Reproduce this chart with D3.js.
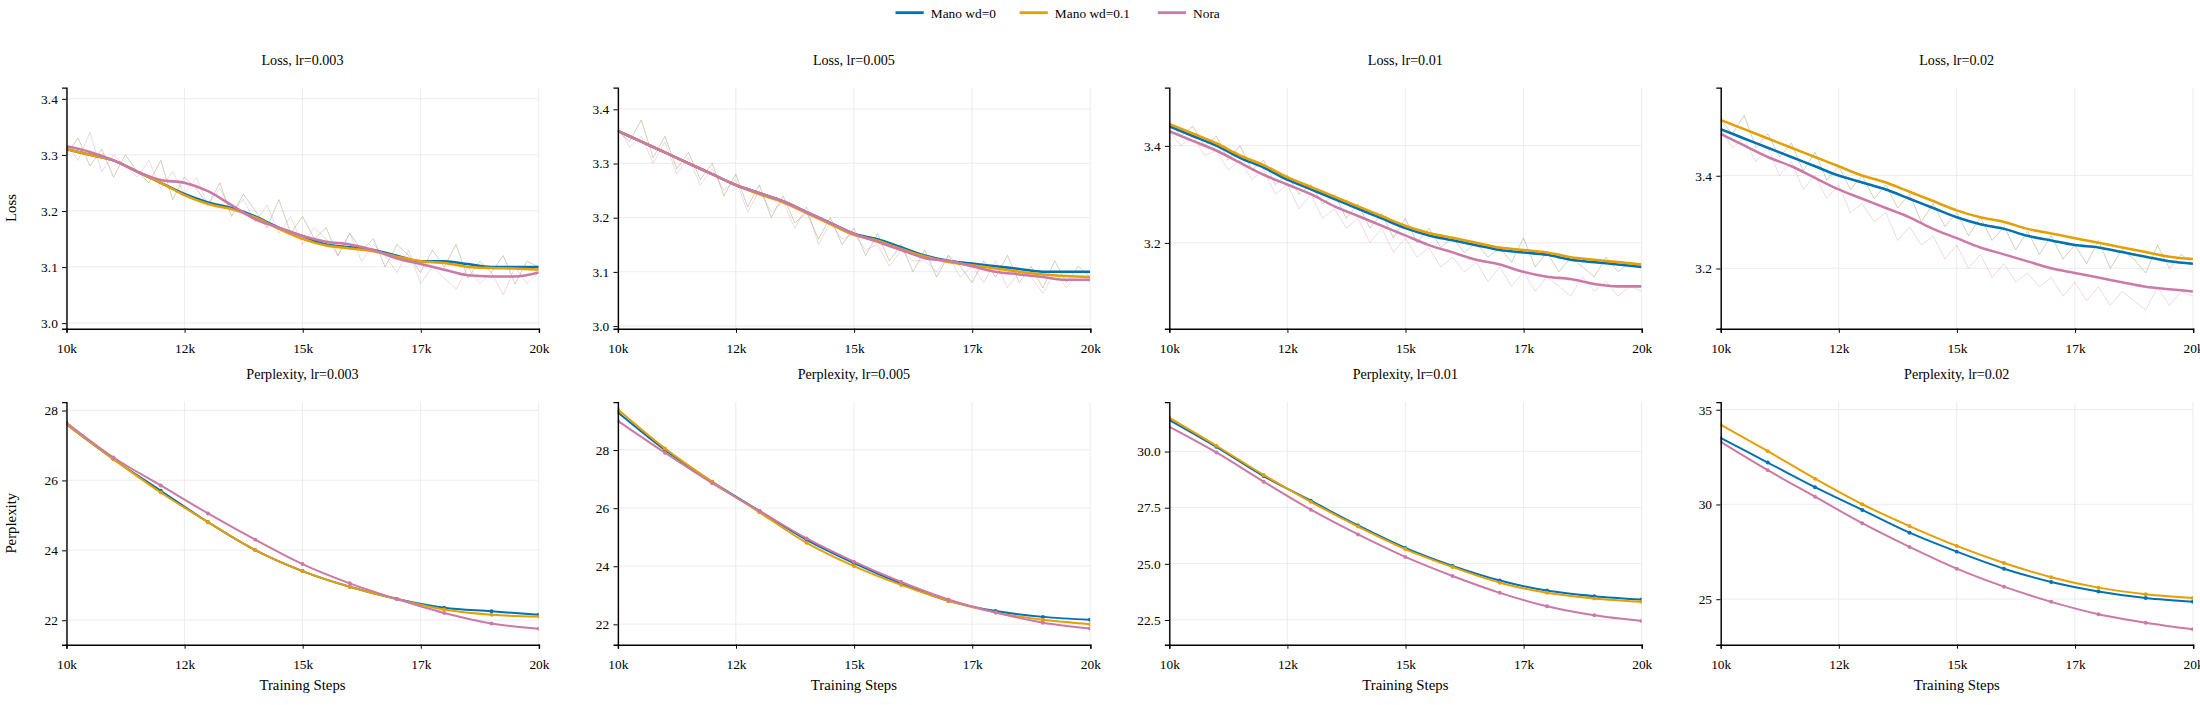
<!DOCTYPE html>
<html><head><meta charset="utf-8">
<script src="https://cdn.jsdelivr.net/npm/d3@7"></script>
<style>body{margin:0;background:#fff;font-family:"Liberation Serif",serif;}</style>
</head><body><div id="container"></div>
<script>
const width = 2200, height = 705;
const k = 2200 / 1560; // layout drawn on a 1560x500 grid, scaled up

const series = ["Mano wd=0", "Mano wd=0.1", "Nora"];
const colors = ["#0072B2", "#E69F00", "#CC79A7"];
const lrs = ["0.003", "0.005", "0.01", "0.02"];
const xTicks = [10000, 12500, 15000, 17500, 20000];

// smoothed loss, every 500 steps from 10k to 20k
const lossSmooth = [
  [[3.31,3.30,3.29,3.27,3.25,3.23,3.215,3.205,3.19,3.17,3.155,3.14,3.135,3.13,3.12,3.11,3.11,3.105,3.10,3.10,3.10],
   [3.31,3.30,3.29,3.27,3.25,3.228,3.212,3.203,3.188,3.168,3.15,3.138,3.133,3.128,3.118,3.11,3.107,3.10,3.098,3.097,3.095],
   [3.315,3.305,3.29,3.27,3.255,3.25,3.235,3.21,3.185,3.17,3.155,3.145,3.14,3.13,3.115,3.105,3.095,3.085,3.083,3.083,3.09]],
  [[3.36,3.34,3.32,3.30,3.28,3.26,3.245,3.23,3.21,3.19,3.17,3.16,3.145,3.13,3.12,3.115,3.11,3.105,3.10,3.10,3.10],
   [3.36,3.34,3.32,3.30,3.28,3.26,3.243,3.228,3.208,3.188,3.168,3.157,3.142,3.128,3.118,3.112,3.106,3.1,3.095,3.092,3.09],
   [3.36,3.34,3.32,3.30,3.28,3.26,3.245,3.23,3.21,3.19,3.17,3.155,3.14,3.125,3.12,3.11,3.10,3.095,3.09,3.085,3.085]],
  [[3.44,3.42,3.40,3.375,3.355,3.33,3.31,3.29,3.27,3.25,3.23,3.215,3.205,3.195,3.185,3.18,3.175,3.165,3.16,3.155,3.15],
   [3.445,3.425,3.405,3.38,3.36,3.335,3.315,3.295,3.275,3.255,3.235,3.22,3.21,3.20,3.19,3.185,3.18,3.17,3.165,3.16,3.155],
   [3.43,3.41,3.39,3.365,3.34,3.32,3.30,3.275,3.255,3.235,3.215,3.195,3.18,3.165,3.155,3.14,3.13,3.125,3.115,3.11,3.11]],
  [[3.50,3.48,3.46,3.44,3.42,3.40,3.385,3.37,3.35,3.33,3.31,3.295,3.285,3.27,3.26,3.25,3.245,3.235,3.225,3.215,3.21],
   [3.52,3.50,3.48,3.46,3.44,3.42,3.40,3.385,3.365,3.345,3.325,3.31,3.30,3.285,3.275,3.265,3.255,3.245,3.235,3.225,3.22],
   [3.49,3.465,3.44,3.42,3.395,3.37,3.35,3.33,3.31,3.285,3.265,3.245,3.23,3.215,3.20,3.19,3.18,3.17,3.16,3.155,3.15]]
];

// raw loss, every 250 steps (Mano runs overlap, Nora)
const lossRawMano = [
  [3.30,3.33,3.28,3.31,3.26,3.30,3.27,3.25,3.29,3.22,3.26,3.24,3.21,3.25,3.19,3.23,3.20,3.17,3.22,3.16,3.19,3.15,3.17,3.12,3.16,3.13,3.15,3.10,3.14,3.12,3.09,3.13,3.10,3.14,3.08,3.11,3.09,3.12,3.07,3.11,3.10],
  [3.36,3.34,3.38,3.31,3.35,3.29,3.32,3.27,3.30,3.24,3.28,3.22,3.26,3.20,3.24,3.19,3.21,3.16,3.20,3.15,3.18,3.13,3.17,3.12,3.15,3.10,3.14,3.09,3.13,3.11,3.08,3.12,3.09,3.13,3.08,3.11,3.07,3.12,3.08,3.11,3.09],
  [3.45,3.42,3.44,3.40,3.42,3.37,3.40,3.35,3.37,3.32,3.34,3.30,3.32,3.28,3.30,3.25,3.28,3.23,3.26,3.21,3.25,3.20,3.23,3.19,3.21,3.18,3.20,3.17,3.19,3.16,3.21,3.15,3.18,3.14,3.17,3.15,3.13,3.17,3.14,3.16,3.15],
  [3.52,3.49,3.53,3.46,3.49,3.44,3.47,3.41,3.45,3.39,3.42,3.37,3.40,3.35,3.38,3.33,3.36,3.30,3.34,3.29,3.32,3.27,3.31,3.26,3.29,3.24,3.28,3.23,3.27,3.22,3.25,3.21,3.26,3.20,3.24,3.22,3.19,3.25,3.20,3.23,3.21]
];
const lossRawNora = [
  [3.32,3.29,3.34,3.27,3.30,3.28,3.26,3.29,3.24,3.27,3.23,3.26,3.21,3.24,3.20,3.22,3.18,3.21,3.16,3.19,3.14,3.17,3.15,3.12,3.16,3.11,3.14,3.12,3.09,3.13,3.07,3.10,3.08,3.06,3.10,3.07,3.09,3.05,3.10,3.07,3.09],
  [3.37,3.33,3.35,3.30,3.34,3.28,3.31,3.26,3.29,3.25,3.27,3.21,3.25,3.21,3.23,3.18,3.22,3.15,3.19,3.16,3.17,3.14,3.15,3.11,3.14,3.12,3.12,3.10,3.13,3.09,3.11,3.08,3.12,3.07,3.10,3.09,3.06,3.10,3.07,3.10,3.08],
  [3.43,3.40,3.42,3.38,3.39,3.35,3.37,3.33,3.35,3.30,3.32,3.27,3.30,3.25,3.27,3.23,3.25,3.20,3.23,3.18,3.21,3.17,3.19,3.15,3.17,3.14,3.16,3.12,3.15,3.11,3.14,3.10,3.13,3.11,3.09,3.13,3.10,3.12,3.09,3.11,3.10],
  [3.50,3.46,3.48,3.43,3.46,3.40,3.43,3.37,3.40,3.35,3.38,3.32,3.34,3.30,3.32,3.26,3.29,3.25,3.27,3.22,3.25,3.20,3.23,3.18,3.21,3.17,3.19,3.16,3.18,3.14,3.17,3.13,3.16,3.12,3.15,3.13,3.11,3.16,3.12,3.15,3.14]
];

// perplexity, every 1000 steps
const ppl = [
  [[27.6,26.6,25.7,24.8,24.0,23.4,22.95,22.6,22.35,22.25,22.15],
   [27.6,26.6,25.65,24.8,24.0,23.4,22.95,22.6,22.3,22.15,22.1],
   [27.65,26.65,25.85,25.05,24.3,23.6,23.05,22.6,22.2,21.9,21.75]],
  [[29.3,28.0,26.9,25.9,24.9,24.1,23.4,22.8,22.45,22.25,22.15],
   [29.4,28.05,26.9,25.85,24.8,24.0,23.35,22.8,22.4,22.15,22.0],
   [29.0,27.9,26.85,25.9,24.95,24.15,23.45,22.85,22.4,22.05,21.85]],
  [[31.4,30.2,28.9,27.8,26.7,25.7,24.9,24.25,23.8,23.55,23.4],
   [31.5,30.25,28.95,27.75,26.65,25.65,24.85,24.15,23.7,23.45,23.3],
   [31.1,29.95,28.65,27.4,26.3,25.3,24.45,23.7,23.1,22.7,22.45]],
  [[33.5,32.2,30.9,29.7,28.5,27.5,26.6,25.9,25.4,25.05,24.85],
   [34.2,32.8,31.35,30.0,28.85,27.8,26.9,26.15,25.6,25.25,25.05],
   [33.3,31.8,30.4,29.0,27.75,26.6,25.65,24.85,24.2,23.75,23.4]]
];

const lossDomains = [[2.99,3.42],[2.995,3.44],[3.023,3.52],[3.07,3.59]];
const lossTicks = [[3.0,3.1,3.2,3.3,3.4],[3.0,3.1,3.2,3.3,3.4],[3.2,3.4],[3.2,3.4]];
const pplDomains = [[21.3,28.24],[21.3,29.65],[21.4,32.2],[22.6,35.4]];
const pplTicks = [[22,24,26,28],[22,24,26,28],[22.5,25.0,27.5,30.0],[25,30,35]];

const panelLeft = [47, 438, 829, 1220];
const panelW = 335;
const rows = [{top: 62, bottom: 233}, {top: 285, bottom: 457}];

const root = d3.select("#container").append("svg")
  .attr("width", width).attr("height", height)
  .style("font-family", '"Liberation Serif", serif');
const svg = root.append("g").attr("transform", `scale(${k})`);

// legend
const lg = svg.append("g").attr("transform", "translate(635,9)");
const lgX = [0, 88, 186];
series.forEach((s, i) => {
  const g = lg.append("g").attr("transform", `translate(${lgX[i]},0)`);
  g.append("line").attr("x1", 0).attr("x2", 20).attr("stroke", colors[i]).attr("stroke-width", 2);
  g.append("text").attr("x", 25).attr("y", 3.5).attr("font-size", 9.5).text(s);
});

function panel(row, col) {
  const left = panelLeft[col], r = rows[row];
  const x = d3.scaleLinear().domain([10000, 20000]).range([left, left + panelW]);
  const yDom = row === 0 ? lossDomains[col] : pplDomains[col];
  const yT = row === 0 ? lossTicks[col] : pplTicks[col];
  const y = d3.scaleLinear().domain(yDom).range([r.bottom, r.top]);
  const g = svg.append("g");

  // grid
  g.selectAll(".gx").data(xTicks).join("line")
    .attr("x1", d => x(d)).attr("x2", d => x(d)).attr("y1", r.top).attr("y2", r.bottom)
    .attr("stroke", "#e8e8e8").attr("stroke-width", 0.6);
  g.selectAll(".gy").data(yT).join("line")
    .attr("x1", left).attr("x2", left + panelW).attr("y1", d => y(d)).attr("y2", d => y(d))
    .attr("stroke", "#e8e8e8").attr("stroke-width", 0.6);

  const clip = "clip" + row + col;
  svg.append("clipPath").attr("id", clip).append("rect")
    .attr("x", left).attr("y", r.top).attr("width", panelW).attr("height", r.bottom - r.top);
  const plot = g.append("g").attr("clip-path", `url(#${clip})`);

  if (row === 0) {
    const rawLine = d3.line().x((d, i) => x(10000 + i * 250)).y(d => y(d));
    plot.append("path").attr("d", rawLine(lossRawNora[col])).attr("fill", "none")
      .attr("stroke", colors[2]).attr("stroke-opacity", 0.3).attr("stroke-width", 0.7);
    plot.append("path").attr("d", rawLine(lossRawMano[col])).attr("fill", "none")
      .attr("stroke", "#8f9a6a").attr("stroke-opacity", 0.45).attr("stroke-width", 0.7);
    const sm = d3.line().x((d, i) => x(10000 + i * 500)).y(d => y(d)).curve(d3.curveMonotoneX);
    lossSmooth[col].forEach((s, i) => {
      plot.append("path").attr("d", sm(s)).attr("fill", "none")
        .attr("stroke", colors[i]).attr("stroke-width", 1.8);
    });
  } else {
    const ln = d3.line().x((d, i) => x(10000 + i * 1000)).y(d => y(d)).curve(d3.curveMonotoneX);
    ppl[col].forEach((s, i) => {
      plot.append("path").attr("d", ln(s)).attr("fill", "none")
        .attr("stroke", colors[i]).attr("stroke-width", 1.4);
      plot.selectAll(null).data(s).join("circle")
        .attr("cx", (d, j) => x(10000 + j * 1000)).attr("cy", d => y(d))
        .attr("r", 1.4).attr("fill", colors[i]);
    });
  }

  // axes
  const xa = g.append("g").attr("transform", `translate(0,${r.bottom})`)
    .call(d3.axisBottom(x).tickValues(xTicks).tickSize(3).tickFormat(d => Math.floor(d / 1000) + "k"));
  const ya = g.append("g").attr("transform", `translate(${left},0)`)
    .call(d3.axisLeft(y).tickValues(yT).tickSize(3)
      .tickFormat(row === 0 || col === 2 ? d3.format(".1f") : d3.format("d")));
  [xa, ya].forEach(a => {
    a.select(".domain").attr("stroke", "#000").attr("stroke-width", 1);
    a.selectAll(".tick line").attr("stroke-width", 0.7);
    a.selectAll("text").attr("font-size", 9.5).attr("fill", "#000").style("font-family", '"Liberation Serif", serif');
  });
  xa.selectAll("text").attr("dy", "1.2em");

  g.append("text").attr("x", left + panelW / 2).attr("y", r.top - 16)
    .attr("text-anchor", "middle").attr("font-size", 10)
    .text((row === 0 ? "Loss" : "Perplexity") + ", lr=" + lrs[col]);

  if (col === 0) {
    g.append("text").attr("transform", `translate(11,${(r.top + r.bottom) / 2}) rotate(-90)`)
      .attr("text-anchor", "middle").attr("font-size", 10.5)
      .text(row === 0 ? "Loss" : "Perplexity");
  }
  if (row === 1) {
    g.append("text").attr("x", left + panelW / 2).attr("y", r.bottom + 32)
      .attr("text-anchor", "middle").attr("font-size", 10.5).text("Training Steps");
  }
}

[0, 1].forEach(row => [0, 1, 2, 3].forEach(col => panel(row, col)));
</script>
</body></html>
